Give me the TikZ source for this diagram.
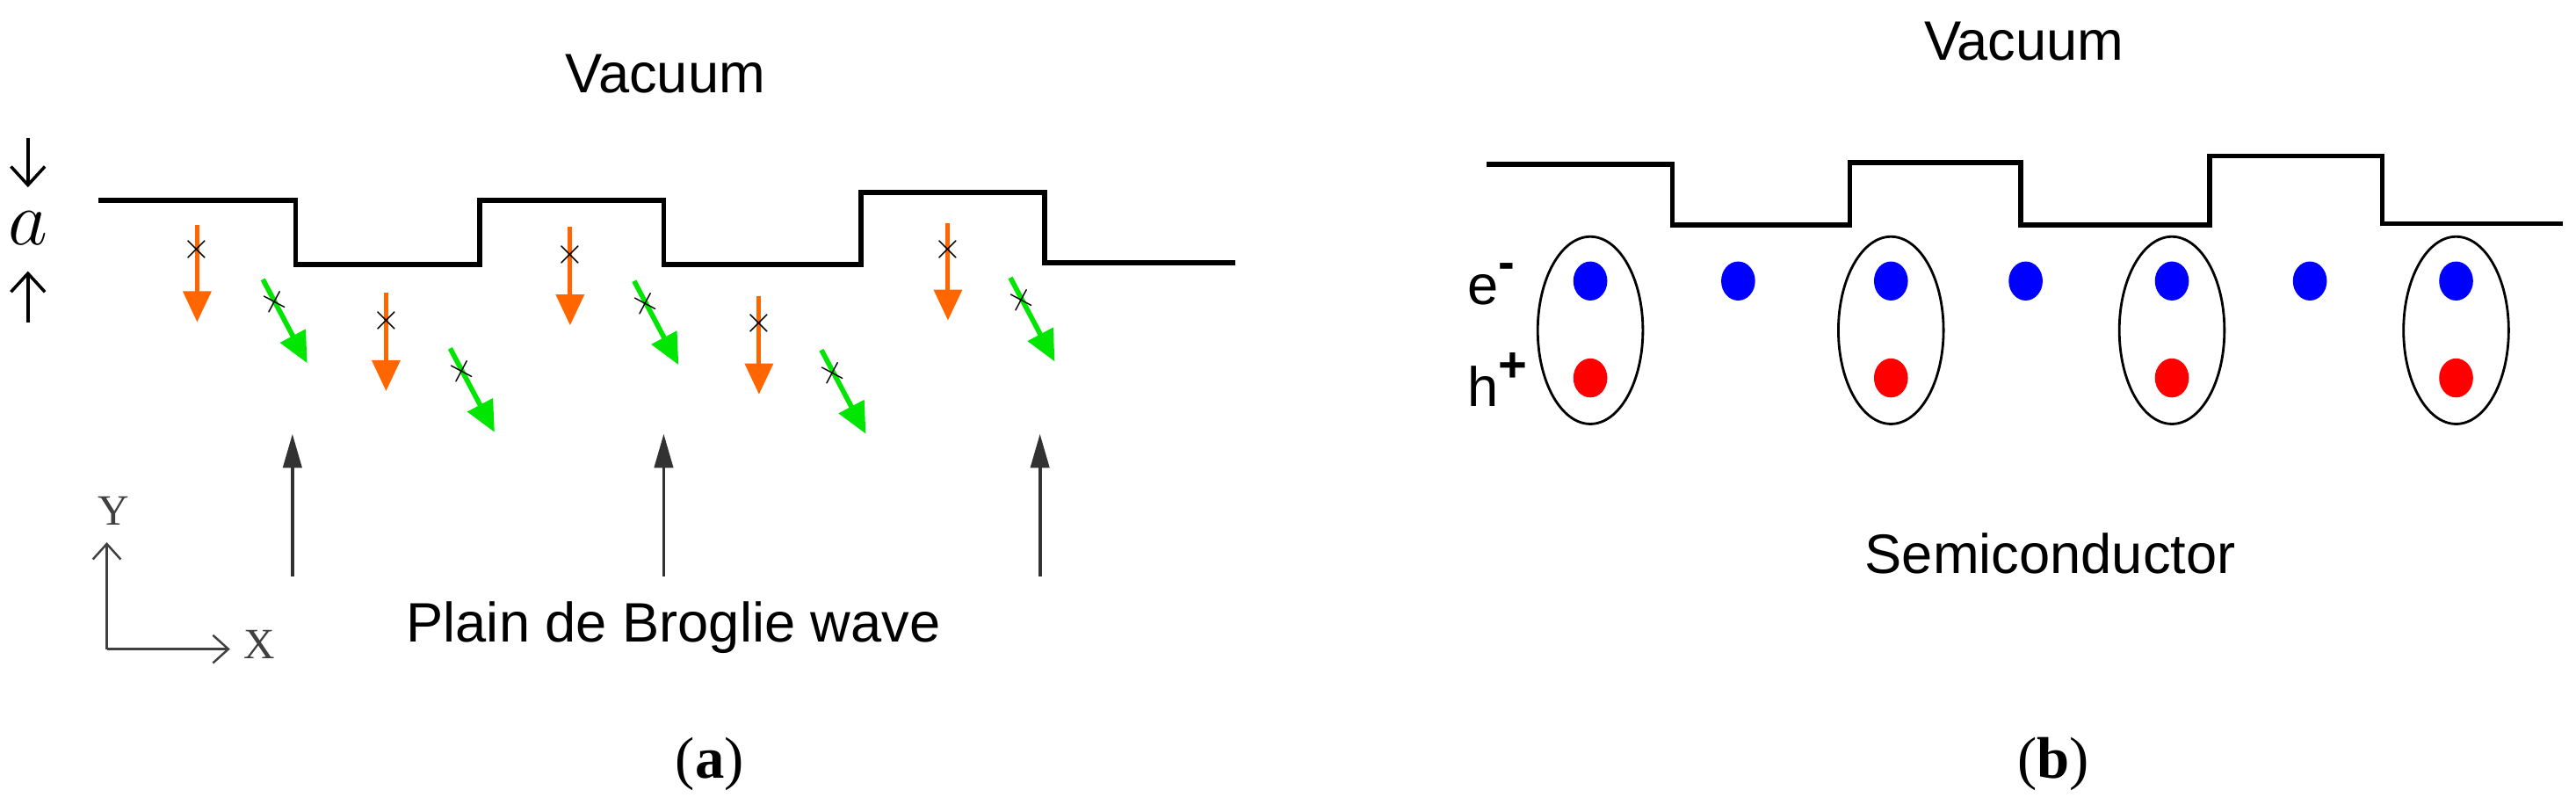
\documentclass[tikz,border=0pt]{standalone}
\usepackage{fontspec}
\setmainfont{Liberation Serif}
\setsansfont{Liberation Sans}
\usetikzlibrary{arrows.meta}
\begin{document}
\begin{tikzpicture}[x=0.0187cm,y=-0.0187cm,
  lbl/.style={font=\sffamily\fontsize{18}{20}\selectfont,inner sep=0},
  stepline/.style={line width=1.6pt},
  oarr/.style={draw={rgb,255:red,255;green,102;blue,0},line width=1.4pt,-{Triangle[width=9pt,length=10pt]}},
  garr/.style={draw={rgb,255:red,0;green,230;blue,0},line width=1.6pt,-{Triangle[width=9pt,length=10pt]}},
  karr/.style={draw={rgb,255:red,50;green,50;blue,50},line width=1.1pt,-{Triangle[width=6pt,length=11pt]}},
  crs/.style={font=\fontsize{12}{12}\selectfont,inner sep=0},
  barb/.style={line width=1pt,-{Straight Barb[length=6pt,width=11pt]}},
  bdot/.style={circle,fill=blue,minimum size=11pt,inner sep=0,yscale=1.15},
  rdot/.style={circle,fill=red,minimum size=11pt,inner sep=0,yscale=1.15}]
\useasboundingbox (0,0) rectangle (1568,494);
% ---------- (a)
\node[lbl] (vaca) at (405,45) {Vacuum};
\draw[stepline] (60,122) -- (180,122) -- (180,161) -- (292,161) -- (292,122) -- (404,122) -- (404,161) -- (524,161) -- (524,117) -- (636,117) -- (636,160) -- (752,160);
\node[font=\fontsize{24}{24}\selectfont,inner sep=0] (alab) at (17,139) {$a$};
\coordinate (ad1) at (17,84); \coordinate (ad2) at (17,114);
\coordinate (au1) at (17,196); \coordinate (au2) at (17,165);
\draw[barb] (ad1) -- (ad2);
\draw[barb] (au1) -- (au2);
\foreach \n/\x/\a/\b/\c in {1/120/137/196/152, 2/235/178/238/195, 3/347/138/198/155, 4/462/180/240/197, 5/577/136/195/152}{
  \coordinate (os\n) at (\x,\a); \coordinate (oe\n) at (\x,\b);
  \draw[oarr] (os\n) -- (oe\n);
  \node[crs] (ox\n) at (\x,\c) {$\times$};
}
\foreach \n/\x/\y in {1/160/170, 2/274/212, 3/386/171, 4/500/213, 5/615/169}{
  \coordinate (gs\n) at (\x,\y); \coordinate (ge\n) at ({\x+27},{\y+51});
  \draw[garr] (gs\n) -- (ge\n);
  \node[crs,rotate=-28] (gx\n) at ({\x+7},{\y+14}) {$+$};
}
\foreach \n/\x in {1/178,2/404,3/633}{
  \coordinate (ks\n) at (\x,351); \coordinate (ke\n) at (\x,264);
  \draw[karr] (ks\n) -- (ke\n);
}
\coordinate (orig) at (65,395); \coordinate (yend) at (65,330); \coordinate (xend) at (140,395);
\draw[line width=0.7pt,draw=black!75,-{Straight Barb[length=5pt,width=9pt]}] (orig) -- (yend);
\draw[line width=0.7pt,draw=black!75,-{Straight Barb[length=5pt,width=9pt]}] (orig) -- (xend);
\node[font=\fontsize{14}{14}\selectfont,inner sep=0,text=black!75] (ylab) at (69,311) {Y};
\node[font=\fontsize{14}{14}\selectfont,inner sep=0,text=black!75] (xlab) at (158,392) {X};
\node[lbl] (wave) at (410,382) {Plain de Broglie wave};
\node[font=\fontsize{19}{20}\selectfont,inner sep=0] (capa) at (432,465) {(\textbf{a})};
% ---------- (b)
\node[lbl] (vacb) at (1232,25) {Vacuum};
\draw[stepline] (905,100) -- (1018,100) -- (1018,137) -- (1126,137) -- (1126,99) -- (1230,99) -- (1230,137) -- (1345,137) -- (1345,95) -- (1450,95) -- (1450,136) -- (1560,136);
\foreach \n/\x in {1/968,2/1151,3/1322,4/1495}{
  \draw[line width=0.8pt] (\x,201) ellipse [x radius=32, y radius=57];
  \node[rdot] (r\n) at (\x,230) {};
}
\foreach \n/\x in {1/968,2/1058,3/1151,4/1233,5/1322,6/1406,7/1495}{
  \node[bdot] (b\n) at (\x,171) {};
}
\node[lbl,anchor=west] (elab) at (893,173) {e\raisebox{0.45em}{\fontsize{16}{16}\selectfont\textbf{-}}};
\node[lbl,anchor=west] (hlab) at (893,231) {h\raisebox{0.45em}{\fontsize{16}{16}\selectfont\textbf{+}}};
\node[lbl] (semi) at (1248,337) {Semiconductor};
\node[font=\fontsize{19}{20}\selectfont,inner sep=0] (capb) at (1250,465) {(\textbf{b})};
\end{tikzpicture}
\end{document}
